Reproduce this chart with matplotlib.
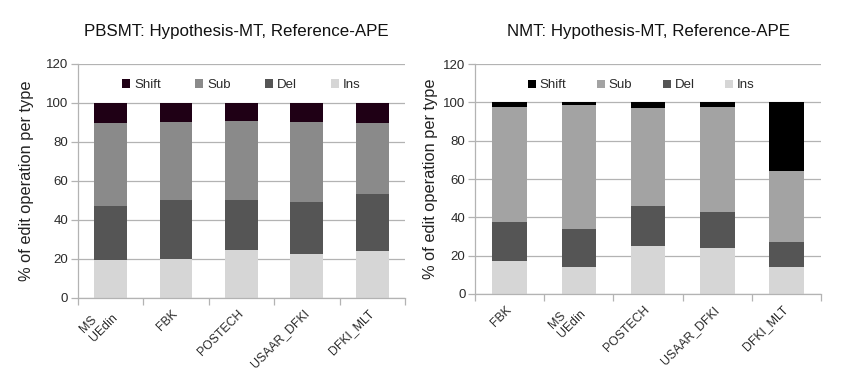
import matplotlib
matplotlib.use("Agg")
import matplotlib.pyplot as plt
import numpy as np

plt.rcParams['font.family'] = ['Liberation Sans', 'DejaVu Sans']

series = ["Shift", "Sub", "Del", "Ins"]

left_title = "PBSMT: Hypothesis-MT, Reference-APE"
left_cats = ["MS\nUEdin", "FBK", "POSTECH", "USAAR_DFKI", "DFKI_MLT"]
left_ins = [19.6, 20.0, 24.4, 22.4, 23.9]
left_del = [27.8, 30.0, 25.6, 27.0, 29.6]
left_sub = [42.4, 40.2, 40.6, 40.8, 36.3]
left_shift = [10.2, 9.8, 9.4, 9.8, 10.2]

right_title = "NMT: Hypothesis-MT, Reference-APE"
right_cats = ["FBK", "MS\nUEdin", "POSTECH", "USAAR_DFKI", "DFKI_MLT"]
right_ins = [17.0, 13.9, 24.8, 23.8, 13.9]
right_del = [20.5, 19.8, 21.0, 18.9, 13.0]
right_sub = [60.1, 65.1, 51.4, 54.9, 37.2]
right_shift = [2.4, 1.2, 2.8, 2.4, 35.9]

left_colors = {"Shift": "#1f0015", "Sub": "#8a8a8a", "Del": "#555555", "Ins": "#d6d6d6"}
right_colors = {"Shift": "#000000", "Sub": "#a3a3a3", "Del": "#555555", "Ins": "#d6d6d6"}

fig = plt.figure(figsize=(8.67, 3.82), dpi=100)
ax1 = fig.add_axes([0.090, 0.220, 0.377, 0.6126])
ax2 = fig.add_axes([0.548, 0.2304, 0.399, 0.602])


def draw(ax, title, cats, ins, dele, sub, shift, colors, ylabelpad, colsp, legx, titlex):
    x = np.arange(len(cats))
    ins = np.array(ins); dele = np.array(dele); sub = np.array(sub); shift = np.array(shift)
    w = 0.5
    handles = {}
    handles["Ins"] = ax.bar(x, ins, w, color=colors["Ins"], zorder=2)
    handles["Del"] = ax.bar(x, dele, w, bottom=ins, color=colors["Del"], zorder=2)
    handles["Sub"] = ax.bar(x, sub, w, bottom=ins + dele, color=colors["Sub"], zorder=2)
    handles["Shift"] = ax.bar(x, shift, w, bottom=ins + dele + sub, color=colors["Shift"], zorder=2)
    ax.set_xlim(-0.5, len(cats) - 0.5)
    ax.set_ylim(0, 120)
    ax.set_yticks(range(0, 121, 20))
    ax.yaxis.grid(True, color="#b3b3b3", linewidth=0.9, zorder=0)
    ax.set_axisbelow(True)
    for s in ["top", "right"]:
        ax.spines[s].set_visible(False)
    for s in ["left", "bottom"]:
        ax.spines[s].set_color("#b3b3b3")
        ax.spines[s].set_linewidth(0.9)
    ax.set_xticks(np.arange(-0.5, len(cats), 1.0))
    ax.set_xticklabels([])
    ax.set_xticks(x, minor=True)
    ax.set_xticklabels(cats, minor=True, rotation=45, ha="right", va="center",
                       rotation_mode="anchor", fontsize=8.8, color="#2a2a2a",
                       linespacing=1.1, multialignment="left")
    ax.tick_params(axis="x", which="major", length=5, color="#b3b3b3", width=0.9)
    ax.tick_params(axis="x", which="minor", length=0, pad=10)
    ax.tick_params(axis="y", length=5, color="#b3b3b3", width=0.9, labelsize=9.5,
                   labelcolor="#2a2a2a", pad=2)
    ax.set_ylabel("% of edit operation per type", fontsize=11.8, color="#222222",
                  labelpad=ylabelpad)
    ax.set_title(title, fontsize=12.2, pad=20, color="#111111", x=titlex)
    leg = ax.legend([handles[s] for s in series], series, ncol=4, loc="upper center",
                    bbox_to_anchor=(legx, 0.985), frameon=False, fontsize=9.5,
                    handlelength=0.6, handleheight=0.6, handletextpad=0.3,
                    columnspacing=colsp)
    for t in leg.get_texts():
        t.set_color("#2a2a2a")


draw(ax1, left_title, left_cats, left_ins, left_del, left_sub, left_shift, left_colors,
     9, 2.6, 0.5, 0.485)
draw(ax2, right_title, right_cats, right_ins, right_del, right_sub, right_shift, right_colors,
     4, 2.3, 0.48, 0.5)

fig.savefig("out.png", dpi=100)
